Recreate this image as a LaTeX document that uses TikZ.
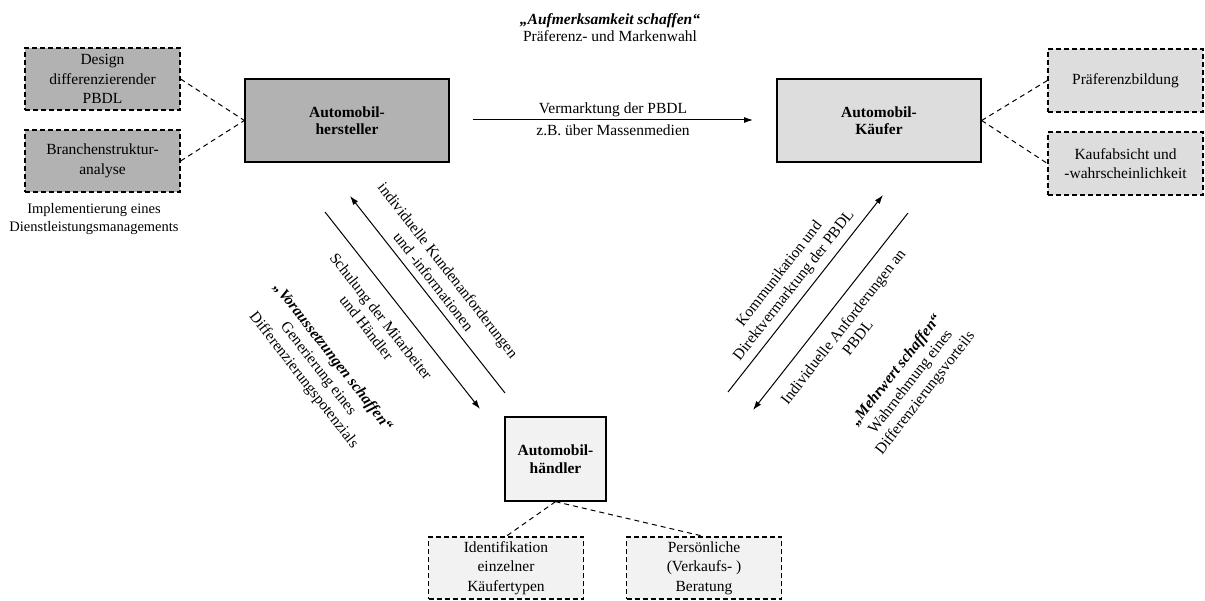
\documentclass[tikz,border=0pt]{standalone}
\usepackage{fontspec}
\setmainfont{Liberation Serif}
\usetikzlibrary{arrows.meta}

\definecolor{darkfill}{RGB}{178,178,178}
\definecolor{midfill}{RGB}{221,221,221}
\definecolor{lightfill}{RGB}{242,242,242}

\tikzset{
  mainbox/.style={draw, line width=1.3pt, minimum width=204pt, minimum height=83pt,
    align=center, font=\fontsize{15.5}{17.5}\selectfont\bfseries},
  subbox/.style={draw, line width=1.2pt, dash pattern=on 5pt off 3pt,
    minimum width=155pt, minimum height=62pt, align=center,
    font=\fontsize{15.5}{19.5}\selectfont},
  link/.style={line width=1pt, dash pattern=on 5pt off 4pt},
  flow/.style={->, line width=1pt},
}

\begin{document}
\begin{tikzpicture}[x=1pt, y=-1pt, >={Latex[length=9pt,width=6pt]},
  font=\fontsize{15.5}{18.5}\selectfont]
\useasboundingbox (0,0) rectangle (1205,601);

% the three parties
\node[mainbox, fill=darkfill] (hersteller) at (347,120.5) {Automobil-\\hersteller};
\node[mainbox, fill=midfill] (kaeufer) at (879,120.5) {Automobil-\\Käufer};
\node[mainbox, fill=lightfill, minimum width=101pt, minimum height=84pt] (haendler) at (555.5,459) {Automobil-\\händler};

% dashed side boxes
\node[subbox, fill=darkfill] (design) at (102.5,79) {Design\\differenzierender\\PBDL};
\node[subbox, fill=darkfill] (branche) at (102.5,161) {Branchenstruktur-\\analyse};
\node[subbox, fill=midfill, minimum height=63pt] (praeferenz) at (1125.5,80.5) {Präferenzbildung};
\node[subbox, fill=midfill, minimum height=63pt] (kaufabsicht) at (1125.5,163.5) {Kaufabsicht und\\-wahrscheinlichkeit};
\node[subbox, fill=lightfill] (typen) at (506,568) {Identifikation\\einzelner\\Käufertypen};
\node[subbox, fill=lightfill] (beratung) at (704,568) {Persönliche\\(Verkaufs- )\\Beratung};

\draw[link] (design.east) -- (hersteller.west);
\draw[link] (branche.east) -- (hersteller.west);
\draw[link] (kaeufer.east) -- (praeferenz.west);
\draw[link] (kaeufer.east) -- (kaufabsicht.west);
\draw[link] (haendler.south) -- (typen.north);
\draw[link] (haendler.south) -- (beratung.north);

\node[align=center, font=\fontsize{14.5}{18}\selectfont] (implement) at (94,219) {Implementierung eines\\Dienstleistungsmanagements};
\node[align=center, font=\fontsize{15.5}{17}\selectfont] (aufmerksam) at (610,27.5) {\textbf{\textit{„Aufmerksamkeit schaffen“}}\\Präferenz- und Markenwahl};

% arrow ends
\coordinate (m1) at (473,120);
\coordinate (m2) at (753,120);
\coordinate (l1) at (505,393);
\coordinate (l2) at (350,196);
\coordinate (l3) at (325,212);
\coordinate (l4) at (480,409);
\coordinate (r1) at (728,392);
\coordinate (r2) at (883,195);
\coordinate (r3) at (908,213);
\coordinate (r4) at (753,410);

\draw[flow] (m1) -- (m2)
  node[midway, above=2pt, inner sep=1pt] (vermarktung) {Vermarktung der PBDL}
  node[midway, below=3pt, inner sep=1pt] (medien) {z.B. über Massenmedien};
\draw[flow] (l1) -- (l2);
\draw[flow] (l3) -- (l4);
\draw[flow] (r1) -- (r2);
\draw[flow] (r3) -- (r4);

% labels along the diagonals
\node[rotate=-52, align=center] (kundeninfo) at (441,276) {individuelle Kundenanforderungen\\und -informationen};
\node[rotate=-52, align=center] (schulung) at (374,322) {Schulung der Mitarbeiter\\und Händler};
\node[rotate=-52, align=center] (voraus) at (318,369) {\textbf{\textit{„Voraussetzungen schaffen“}}\\Generierung eines\\Differenzierungspotenzials};
\node[rotate=52, align=center] (kommunikation) at (787,280) {Kommunikation und\\Direktvermarktung der PBDL};
\node[rotate=52, align=center] (anforderung) at (850,332) {Individuelle Anforderungen an\\PBDL};
\node[rotate=52, align=center] (mehrwert) at (911,382) {\textbf{\textit{„Mehrwert schaffen“}}\\Wahrnehmung eines\\Differenzierungsvorteils};
\end{tikzpicture}
\end{document}
